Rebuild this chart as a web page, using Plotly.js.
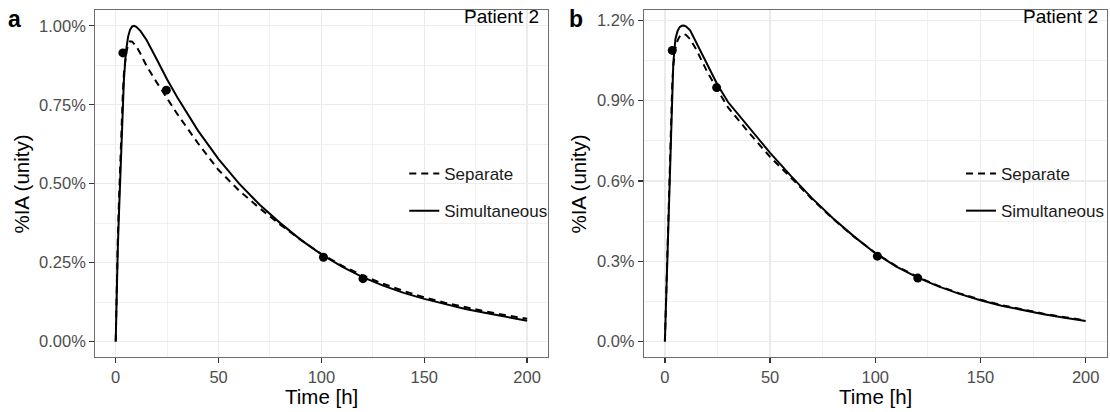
<!DOCTYPE html>
<html>
<head>
<meta charset="utf-8">
<script src="https://cdn.plot.ly/plotly-3.0.1.min.js"></script>
<style>html,body{margin:0;padding:0;background:#fff;}#chart{width:1110px;height:412px;}</style>
</head>
<body>
<div id="chart"></div>
<script>
// Time grid of the model curves [h]
const timeH = [0,0.5,1,1.5,2,2.5,3,3.5,4,5,6,7,8,9,10,12,15,20,25,30,40,50,60,70,80,90,100,110,120,130,140,150,160,170,180,190,200];

// Panel a (%IA)
const aSimultaneous = [0,0.19,0.29,0.39,0.49,0.58,0.68,0.76,0.83,0.92,0.965,0.988,0.998,1.0,0.997,0.984,0.955,0.893,0.830,0.773,0.668,0.578,0.500,0.433,0.375,0.322,0.276,0.237,0.204,0.177,0.154,0.135,0.118,0.103,0.090,0.078,0.066];
const aSeparate = [0,0.2,0.32,0.43,0.53,0.63,0.72,0.79,0.85,0.91,0.94,0.951,0.95,0.944,0.935,0.912,0.873,0.820,0.770,0.720,0.628,0.543,0.478,0.422,0.370,0.322,0.277,0.240,0.209,0.183,0.160,0.140,0.123,0.108,0.095,0.083,0.072];
const aObsTime = [3.5,24.6,101,120.2];
const aObs = [0.914,0.796,0.267,0.199];

// Panel b (%IA)
const bSimultaneous = [0,0.13,0.25,0.42,0.55,0.71,0.83,0.95,1.04,1.13,1.16,1.175,1.18,1.181,1.178,1.163,1.115,1.04,0.96,0.895,0.80,0.705,0.618,0.535,0.46,0.392,0.330,0.280,0.240,0.206,0.178,0.154,0.134,0.117,0.102,0.089,0.077];
const bSeparate = [0,0.15,0.29,0.45,0.59,0.74,0.86,0.96,1.03,1.095,1.125,1.14,1.148,1.149,1.146,1.13,1.09,1.01,0.94,0.875,0.78,0.69,0.612,0.532,0.458,0.391,0.331,0.282,0.242,0.208,0.180,0.156,0.136,0.119,0.104,0.091,0.079];
const bObsTime = [3.5,24.6,101,120.2];
const bObs = [1.088,0.949,0.319,0.237];

const seriesNames = ['Separate','Simultaneous'];
const xTickVals = [0,50,100,150,200];
const panelLabels = ['a','b'];
const patientLabel = 'Patient 2';
const xTitle = 'Time [h]';
const yTitle = '%IA (unity)';

const FONT = 'Liberation Sans, Arial, Helvetica, sans-serif';
const W = 1110, H = 412;
const px = v => v / W, py = v => 1 - v / H;

function curve(x, y, name, dash, xa, ya, leg) {
  return {x: x, y: y, type: 'scatter', mode: 'lines', name: name,
    xaxis: xa, yaxis: ya, legend: leg, legendgroup: leg + name,
    line: {color: '#000', width: 2, dash: dash}, hoverinfo: 'skip'};
}
function pts(x, y, xa, ya) {
  return {x: x, y: y, type: 'scatter', mode: 'markers', showlegend: false,
    xaxis: xa, yaxis: ya, marker: {color: '#000', size: 9}, hoverinfo: 'skip'};
}

const traces = [
  curve(timeH, aSeparate, seriesNames[0], '7px,5px', 'x', 'y', 'legend'),
  curve(timeH, aSimultaneous, seriesNames[1], 'solid', 'x', 'y', 'legend'),
  pts(aObsTime, aObs, 'x', 'y'),
  curve(timeH, bSeparate, seriesNames[0], '7px,5px', 'x2', 'y2', 'legend2'),
  curve(timeH, bSimultaneous, seriesNames[1], 'solid', 'x2', 'y2', 'legend2'),
  pts(bObsTime, bObs, 'x2', 'y2')
];

const grid = '#EBEBEB';
function xAxis(dom, anchor) {
  return {domain: dom, anchor: anchor, range: [-10, 210], tickvals: xTickVals,
    showgrid: true, gridcolor: grid, gridwidth: 1.3, zeroline: false,
    minor: {dtick: 25, tick0: 0, showgrid: true, gridcolor: grid, gridwidth: 0.7, ticklen: 0},
    showline: true, mirror: true, linecolor: '#6e6e6e', linewidth: 1,
    ticks: 'outside', ticklen: 5, tickwidth: 1.3, tickcolor: '#333',
    tickfont: {family: FONT, size: 16.5, color: '#4D4D4D'}, fixedrange: true};
}
function yAxis(dom, anchor, rng, dt, fmt) {
  return {domain: dom, anchor: anchor, range: rng, tick0: 0, dtick: dt,
    tickformat: fmt, ticksuffix: '%',
    showgrid: true, gridcolor: grid, gridwidth: 1.3, zeroline: false,
    minor: {dtick: dt / 2, tick0: 0, showgrid: true, gridcolor: grid, gridwidth: 0.7, ticklen: 0},
    showline: true, mirror: true, linecolor: '#6e6e6e', linewidth: 1,
    ticks: 'outside', ticklen: 5, tickwidth: 1.3, tickcolor: '#333',
    tickfont: {family: FONT, size: 16.5, color: '#4D4D4D'}, fixedrange: true};
}

const yDom = [(H - 357.3) / H, (H - 10) / H];
const aDom = [px(95.3), px(548.7)];
const bDom = [px(645), px(1108.7)];

function legend(xLeft) {
  return {x: px(xLeft), xanchor: 'left', y: py(192.5), yanchor: 'middle',
    bgcolor: 'rgba(0,0,0,0)', borderwidth: 0, tracegroupgap: 12,
    font: {family: FONT, size: 17, color: '#1A1A1A'}};
}

function ann(text, x, y, opts) {
  return Object.assign({text: text, x: x, y: y, xref: 'paper', yref: 'paper',
    showarrow: false, xanchor: 'center', yanchor: 'middle',
    font: {family: FONT, size: 20.5, color: '#000'}}, opts || {});
}

const annotations = [
  ann(panelLabels[0], px(15), py(18.7), {font: {family: FONT, size: 23, color: '#000', weight: 'bold'}}),
  ann(panelLabels[1], px(576.7), py(18.7), {font: {family: FONT, size: 23, color: '#000', weight: 'bold'}}),
  ann(patientLabel, px(541.7), py(16.5), {xanchor: 'right', font: {family: FONT, size: 19, color: '#000'}}),
  ann(patientLabel, px(1101.7), py(16.5), {xanchor: 'right', font: {family: FONT, size: 19, color: '#000'}}),
  ann(xTitle, px(322), py(396), {}),
  ann(xTitle, px(876.8), py(396), {}),
  ann(yTitle, px(22), py(183.6), {textangle: -90}),
  ann(yTitle, px(580), py(183.6), {textangle: -90})
];

const layout = {
  width: W, height: H, margin: {l: 0, r: 0, t: 0, b: 0},
  paper_bgcolor: '#fff', plot_bgcolor: '#fff',
  xaxis: xAxis(aDom, 'y'), yaxis: yAxis(yDom, 'x', [-0.05, 1.05], 0.25, '.2f'),
  xaxis2: xAxis(bDom, 'y2'), yaxis2: yAxis(yDom, 'x2', [-0.059, 1.239], 0.3, '.1f'),
  legend: legend(405), legend2: legend(963),
  annotations: annotations, showlegend: true
};

Plotly.newPlot('chart', traces, layout, {displayModeBar: false, staticPlot: true});
</script>
</body>
</html>
